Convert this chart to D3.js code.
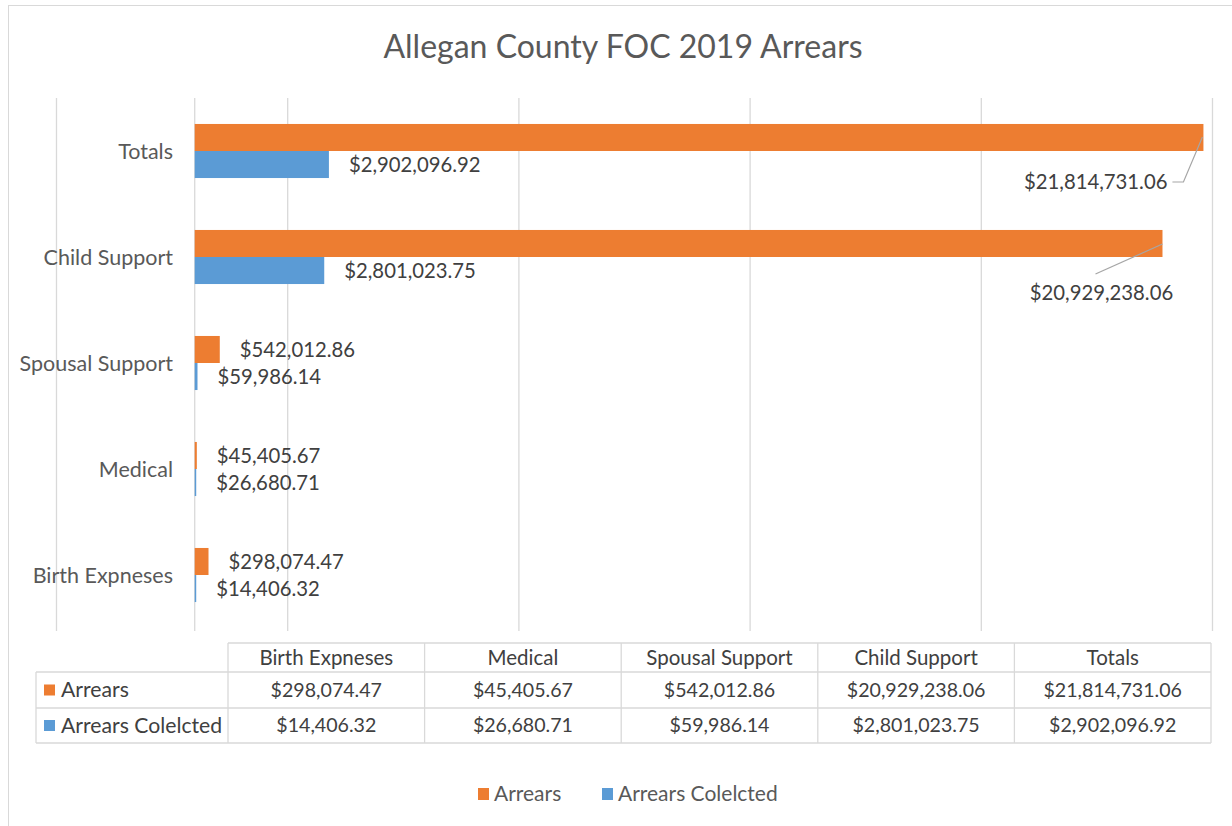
<!DOCTYPE html>
<html lang="en">
<head>
  <meta charset="utf-8"/>
  <title>Allegan County FOC 2019 Arrears</title>
  <script src="https://cdn.jsdelivr.net/npm/d3@7/dist/d3.min.js"></script>
  <style>
    html,body { margin:0; padding:0; background:#fff; overflow:hidden; }
    svg { display:block; font-family:Lato, "Open Sans", sans-serif; }
    .grid line { stroke:#d9d9d9; stroke-width:1.3; }
    .cat   { fill:#595959; font-size:21.5px; }
    .lbl   { fill:#404040; font-size:20.3px; }
    .cell  { fill:#404040; font-size:19.6px; }
    .rowh  { fill:#404040; font-size:21.2px; }
    .hdr   { fill:#404040; font-size:20.5px; }
    .leg   { fill:#595959; font-size:21px; }
  </style>
</head>
<body>
  <svg width="1232" height="826"></svg>

  <script>
  // data (order as in the data table)
  const categories = ["Birth Expneses", "Medical", "Spousal Support", "Child Support", "Totals"];
  const arrears    = [298074.47, 45405.67, 542012.86, 20929238.06, 21814731.06];
  const collected  = [14406.32, 26680.71, 59986.14, 2801023.75, 2902096.92];
  const seriesNames = ["Arrears", "Arrears Colelcted"];
  const gridTicks  = [-3e6, 2e6, 7e6, 12e6, 17e6, 22e6];

  const colors = ["#ED7D31", "#5B9BD5"];
  const fmt = d3.format("$,.2f");

  const svg = d3.select("svg");

  // chart frame
  svg.append("rect")
    .attr("x", 8.5).attr("y", 5.5).attr("width", 1240).attr("height", 840)
    .attr("fill", "#fff").attr("stroke", "#d9d9d9");

  svg.append("text")
    .attr("x", 623).attr("y", 58)
    .attr("text-anchor", "middle")
    .attr("fill", "#595959").style("font-size", "32px")
    .text("Allegan County FOC 2019 Arrears");

  // scales
  const plotTop = 98, plotBot = 628;
  const x = d3.scaleLinear().domain([gridTicks[0], gridTicks[gridTicks.length-1]]).range([56, 1212]);
  const yOrder = categories.slice().reverse();   // Totals on top
  const y = d3.scaleBand().domain(yOrder).range([plotTop, plotBot])
    .paddingInner(0.49).paddingOuter(0.245);
  const ySub = d3.scaleBand().domain(seriesNames).range([0, y.bandwidth()]);

  // gridlines
  svg.append("g").attr("class", "grid")
    .attr("transform", `translate(0,${plotTop})`)
    .call(d3.axisTop(x).tickValues(gridTicks).tickSize(-(plotBot - plotTop + 3)).tickFormat(""))
    .call(g => g.select(".domain").remove());

  // category axis line at zero
  svg.append("line")
    .attr("x1", x(0)).attr("x2", x(0))
    .attr("y1", plotTop).attr("y2", plotBot + 3)
    .attr("stroke", "#d9d9d9").attr("stroke-width", 1.3);

  // category labels
  svg.append("g").selectAll("text")
    .data(yOrder)
    .join("text")
      .attr("class", "cat")
      .attr("x", 173)
      .attr("y", d => y(d) + y.bandwidth() / 2)
      .attr("dy", "0.35em")
      .attr("text-anchor", "end")
      .text(d => d);

  // bars
  const rows = categories.map((c, i) => ({ cat: c, vals: [arrears[i], collected[i]] }));
  const groups = svg.append("g").selectAll("g")
    .data(rows)
    .join("g")
      .attr("transform", d => `translate(0,${y(d.cat)})`);

  groups.selectAll("rect")
    .data(d => d.vals.map((v, k) => ({ v, k, s: seriesNames[k] })))
    .join("rect")
      .attr("x", x(0))
      .attr("y", d => ySub(d.s))
      .attr("height", ySub.bandwidth())
      .attr("width", d => Math.max(1.5, x(d.v) - x(0)))
      .attr("fill", d => colors[d.k]);

  // data labels; the two long orange bars have labels pulled below with leader lines
  const leader = {
    "Totals":        { dx: -36, dy: 31, anchor: "end",    from: [5, -10], to: [-1, -14] },
    "Child Support": { dx: -61, dy: 36, anchor: "middle", from: [-6, -19], to: [0, -13] }
  };

  groups.each(function(d) {
    const g = d3.select(this);
    d.vals.forEach((v, k) => {
      const s = seriesNames[k];
      const yc = ySub(s) + ySub.bandwidth() / 2;
      const L = k === 0 ? leader[d.cat] : null;
      if (L) {
        const lx = x(v) + L.dx, ly = ySub(s) + ySub.bandwidth() + L.dy;
        g.append("text").attr("class", "lbl")
          .attr("x", lx).attr("y", ly).attr("dy", "0.35em")
          .attr("text-anchor", L.anchor).text(fmt(v));
        const pts = d.cat === "Totals"
          ? [[lx + L.from[0], ly], [lx + 16, ly], [x(v) + L.to[0], ySub(s) + ySub.bandwidth() + L.to[1]]]
          : [[lx + L.from[0], ly + L.from[1]], [x(v), ySub(s) + ySub.bandwidth() + L.to[1]]];
        g.append("path")
          .attr("d", d3.line()(pts))
          .attr("fill", "none").attr("stroke", "#a6a6a6").attr("stroke-width", 1.2);
      } else {
        g.append("text").attr("class", "lbl")
          .attr("x", Math.max(x(v), x(0) + 1.5) + 20).attr("y", yc).attr("dy", "0.35em")
          .text(fmt(v));
      }
    });
  });

  // data table
  const tX0 = 36, tX1 = 228, tX2 = 1211;
  const rowTops = [643, 672, 708, 743];
  const colX = d3.scaleBand().domain(categories).range([tX1, tX2]);
  const tbl = svg.append("g").attr("fill", "none").attr("stroke", "#d9d9d9").attr("stroke-width", 1.3);
  tbl.append("line").attr("x1", tX1).attr("x2", tX2).attr("y1", rowTops[0]).attr("y2", rowTops[0]);
  rowTops.slice(1).forEach(yy =>
    tbl.append("line").attr("x1", tX0).attr("x2", tX2).attr("y1", yy).attr("y2", yy));
  tbl.append("line").attr("x1", tX0).attr("x2", tX0).attr("y1", rowTops[1]).attr("y2", rowTops[3]);
  categories.concat([null]).forEach(c => {
    const xx = c ? colX(c) : tX2;
    tbl.append("line").attr("x1", xx).attr("x2", xx).attr("y1", rowTops[0]).attr("y2", rowTops[3]);
  });

  const cellText = svg.append("g");
  categories.forEach((c, i) => {
    const cx = colX(c) + colX.bandwidth() / 2;
    cellText.append("text").attr("class", "hdr").attr("text-anchor", "middle")
      .attr("x", cx).attr("y", (rowTops[0] + rowTops[1]) / 2).attr("dy", "0.35em").text(c);
    [arrears[i], collected[i]].forEach((v, k) => {
      cellText.append("text").attr("class", "cell").attr("text-anchor", "middle")
        .attr("x", cx).attr("y", (rowTops[k + 1] + rowTops[k + 2]) / 2).attr("dy", "0.35em").text(fmt(v));
    });
  });
  seriesNames.forEach((s, k) => {
    const yc = (rowTops[k + 1] + rowTops[k + 2]) / 2;
    cellText.append("rect").attr("x", 44).attr("y", yc - 5.5).attr("width", 11).attr("height", 11).attr("fill", colors[k]);
    cellText.append("text").attr("class", "rowh").attr("x", 61).attr("y", yc).attr("dy", "0.35em").text(s);
  });

  // legend
  const legX = [478, 602];
  const leg = svg.append("g");
  seriesNames.forEach((s, k) => {
    leg.append("rect").attr("x", legX[k]).attr("y", 788).attr("width", 11).attr("height", 12).attr("fill", colors[k]);
    leg.append("text").attr("class", "leg").attr("x", legX[k] + 16).attr("y", 794).attr("dy", "0.35em").text(s);
  });
  </script>
</body>
</html>
